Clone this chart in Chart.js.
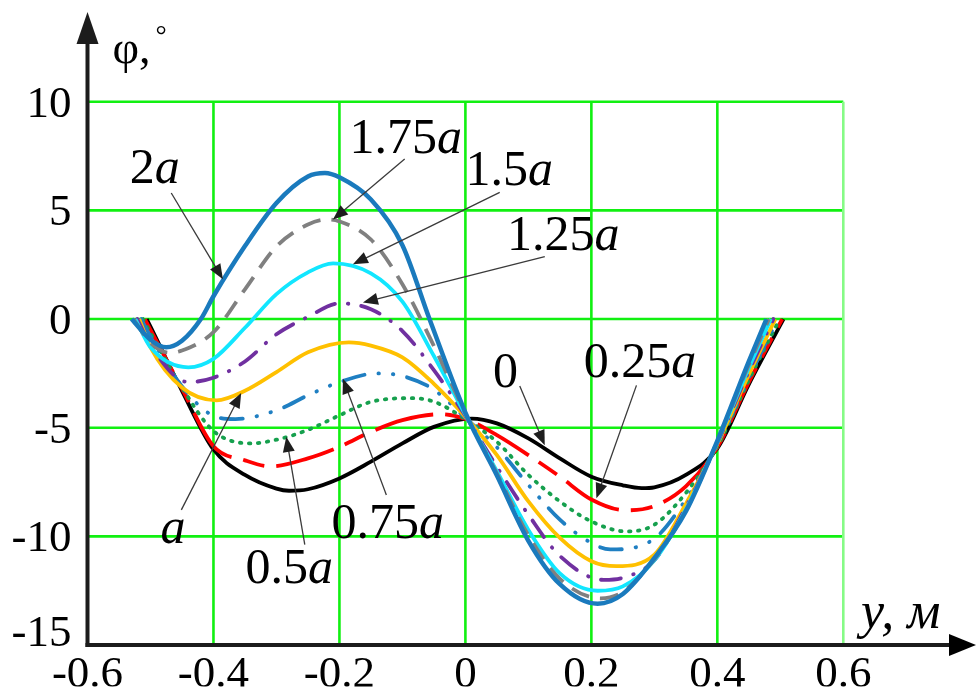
<!DOCTYPE html>
<html>
<head>
<meta charset="utf-8">
<script src="https://cdn.jsdelivr.net/npm/chart.js@4.4.1/dist/chart.umd.min.js"></script>
<style>
html,body{margin:0;padding:0;background:#fff;}
#wrap{width:976px;height:689px;position:relative;}
</style>
</head>
<body>
<div id="wrap"><canvas id="c" width="976" height="689"></canvas></div>
<script>
// ---------------- data ----------------
const xTicks = [-0.6, -0.4, -0.2, 0, 0.2, 0.4, 0.6];
const yTicks = [-15, -10, -5, 0, 5, 10];
const seriesNames = ['0', '0.25a', '0.5a', '0.75a', 'a', '1.25a', '1.5a', '1.75a', '2a'];

// curve "0"
const x_0    = [-0.506, -0.5, -0.45, -0.4, -0.35, -0.3, -0.28, -0.25, -0.2, -0.15, -0.1, -0.05, 0.01, 0.05, 0.1, 0.15, 0.2, 0.25, 0.28, 0.3, 0.35, 0.4, 0.45, 0.505];
const phi_0  = [0, -0.35, -3.3, -6.0, -7.17, -7.8, -7.9, -7.83, -7.33, -6.56, -5.72, -4.96, -4.58, -4.8, -5.49, -6.41, -7.25, -7.65, -7.78, -7.74, -7.17, -5.95, -3.0, 0];
// curve "0.25a"
const x_025a   = [-0.509, -0.5, -0.45, -0.4, -0.35, -0.31, -0.25, -0.2, -0.15, -0.1, -0.04, 0, 0.05, 0.1, 0.15, 0.2, 0.255, 0.3, 0.35, 0.4, 0.45, 0.503];
const phi_025a = [0, -0.5, -3.2, -5.85, -6.5, -6.78, -6.41, -5.88, -5.19, -4.65, -4.38, -4.6, -5.34, -6.26, -7.25, -8.3, -8.8, -8.6, -7.7, -5.9, -2.9, 0];
// curve "0.5a"
const x_05a   = [-0.512, -0.5, -0.45, -0.4, -0.34, -0.3, -0.25, -0.2, -0.15, -0.085, -0.05, 0, 0.05, 0.1, 0.15, 0.2, 0.255, 0.3, 0.35, 0.4, 0.45, 0.499];
const phi_05a = [0, -0.65, -3.15, -5.15, -5.72, -5.55, -5.1, -4.43, -3.81, -3.64, -3.8, -4.6, -5.65, -7.17, -8.39, -9.31, -9.77, -9.46, -8.0, -5.85, -2.8, 0];
// curve "0.75a"
const x_075a   = [-0.515, -0.5, -0.45, -0.4, -0.365, -0.3, -0.25, -0.2, -0.14, -0.1, -0.05, 0, 0.05, 0.1, 0.15, 0.2, 0.23, 0.3, 0.35, 0.4, 0.45, 0.496];
const phi_075a = [0, -0.8, -3.1, -4.45, -4.6, -4.2, -3.51, -2.9, -2.5, -2.62, -3.25, -4.55, -5.9, -7.63, -9.23, -10.3, -10.6, -10.1, -8.3, -5.8, -2.7, 0];
// curve "a"
const x_a   = [-0.518, -0.5, -0.45, -0.395, -0.35, -0.3, -0.25, -0.185, -0.15, -0.1, -0.05, 0, 0.05, 0.1, 0.15, 0.2, 0.24, 0.3, 0.35, 0.4, 0.45, 0.492];
const phi_a = [0, -1.3, -3.15, -3.74, -3.3, -2.44, -1.53, -1.07, -1.22, -1.76, -2.98, -4.5, -6.26, -8.39, -10.07, -11.14, -11.37, -10.84, -8.5, -5.75, -2.55, 0];
// curve "1.25a"
const x_125a   = [-0.521, -0.5, -0.44, -0.4, -0.35, -0.3, -0.25, -0.2, -0.15, -0.1, -0.05, 0, 0.05, 0.1, 0.15, 0.22, 0.25, 0.3, 0.35, 0.4, 0.45, 0.489];
const phi_125a = [0, -1.2, -2.9, -2.7, -1.95, -0.7, 0.1, 0.72, 0.45, -0.55, -2.35, -4.45, -6.8, -9.0, -10.9, -12.0, -11.9, -11.1, -8.65, -5.7, -2.4, 0];
// curve "1.5a"
const x_15a   = [-0.524, -0.5, -0.44, -0.4, -0.35, -0.3, -0.25, -0.21, -0.15, -0.1, -0.05, 0, 0.05, 0.1, 0.15, 0.21, 0.25, 0.3, 0.35, 0.4, 0.45, 0.485];
const phi_15a = [0, -1.3, -2.22, -1.83, -0.4, 1.15, 2.15, 2.56, 2.1, 0.8, -1.7, -4.4, -7.0, -9.7, -11.7, -12.5, -12.3, -11.1, -8.75, -5.65, -2.25, 0];
// curve "1.75a"
const x_175a   = [-0.527, -0.5, -0.47, -0.45, -0.4, -0.35, -0.3, -0.25, -0.22, -0.2, -0.15, -0.1, -0.05, 0, 0.05, 0.1, 0.15, 0.215, 0.25, 0.3, 0.35, 0.4, 0.45, 0.482];
const phi_175a = [0, -1.1, -1.55, -1.45, -0.6, 1.37, 3.34, 4.35, 4.58, 4.49, 3.66, 1.6, -1.24, -4.35, -7.1, -9.95, -11.95, -12.85, -12.55, -11.05, -8.8, -5.62, -2.1, 0];
// curve "2a"
const x_2a   = [-0.53, -0.5, -0.475, -0.45, -0.42, -0.4, -0.35, -0.3, -0.25, -0.223, -0.2, -0.15, -0.1, -0.057, 0, 0.05, 0.1, 0.15, 0.21, 0.25, 0.3, 0.35, 0.4, 0.45, 0.478];
const phi_2a = [0, -0.95, -1.3, -1.0, 0.0, 1.05, 3.36, 5.34, 6.56, 6.72, 6.52, 5.5, 3.4, 0.0, -4.3, -7.2, -10.2, -12.2, -13.1, -12.65, -11.0, -8.85, -5.6, -1.95, 0];

const seriesX   = [x_0, x_025a, x_05a, x_075a, x_a, x_125a, x_15a, x_175a, x_2a];
const seriesPhi = [phi_0, phi_025a, phi_05a, phi_075a, phi_a, phi_125a, phi_15a, phi_175a, phi_2a];

// ---------------- styles ----------------
const styles = [
  {color: '#000000', width: 3.8, dash: [], cap: 'butt'},
  {color: '#ff0000', width: 3.8, dash: [60, 12, 22, 12], cap: 'butt'},
  {color: '#16a04e', width: 3.8, dash: [1.5, 7.5], cap: 'round'},
  {color: '#1f7fc2', width: 3.8, dash: [22, 14, 0.5, 14, 0.5, 14], cap: 'round'},
  {color: '#ffc000', width: 3.8, dash: [], cap: 'butt'},
  {color: '#7030a0', width: 3.8, dash: [20, 13, 0.5, 13], cap: 'round'},
  {color: '#12e6ff', width: 3.8, dash: [], cap: 'butt'},
  {color: '#808080', width: 3.8, dash: [19, 11], cap: 'butt'},
  {color: '#1a7abd', width: 4.5, dash: [], cap: 'butt'}
];

// annotation labels: text, text anchor (data coords, left/baseline), arrow from -> tip (data coords)
const annotations = [
  {t: '2a',    x: -0.533, y: 6.27,   ax: -0.467, ay: 5.8,   bx: -0.385, by: 1.83},
  {t: '1.75a', x: -0.184, y: 7.64,   ax: -0.0964, ay: 7.36, bx: -0.2103, by: 4.58},
  {t: '1.5a',  x: 0.0,    y: 6.18,   ax: 0.0545, ay: 5.83,  bx: -0.1786, by: 2.52},
  {t: '1.25a', x: 0.066,  y: 3.2,    ax: 0.126,  ay: 2.87,  bx: -0.1627, by: 0.76},
  {t: '0',     x: 0.044,  y: -3.11,  ax: 0.0863, ay: -3.08, bx: 0.126,   by: -5.8},
  {t: '0.25a', x: 0.188,  y: -2.66,  ax: 0.2716, ay: -3.05, bx: 0.208,   by: -8.24},
  {t: 'a',     x: -0.484, y: -10.3,  ax: -0.451, ay: -8.78, bx: -0.356,  by: -3.4},
  {t: '0.5a',  x: -0.349, y: -12.13, ax: -0.255, ay: -10.38, bx: -0.2844, by: -5.42},
  {t: '0.75a', x: -0.2125, y: -10.07, ax: -0.1255, ay: -8.09, bx: -0.1944, by: -2.75}
];

const SERIF = "'Liberation Serif', 'Times New Roman', serif";

// ---------------- datasets ----------------
const datasets = seriesNames.map((name, i) => {
  const s = styles[i];
  return {
    label: name,
    data: seriesX[i].map((xv, j) => ({x: xv, y: seriesPhi[i][j]})),
    borderColor: s.color,
    borderWidth: s.width,
    borderDash: s.dash,
    borderCapStyle: s.cap,
    borderJoinStyle: 'round',
    pointRadius: 0,
    fill: false,
    cubicInterpolationMode: 'monotone',
    clip: false,
    order: seriesNames.length - 1 - i
  };
});

// ---------------- plugins ----------------
const gridPlugin = {
  id: 'greenGrid',
  beforeDatasetsDraw(chart) {
    const {ctx, scales: {x, y}} = chart;
    ctx.save();
    ctx.lineWidth = 2.6;
    ctx.strokeStyle = '#11f011';
    yTicks.forEach((v, k) => {
      if (k === 0) return;
      const py = y.getPixelForValue(v);
      ctx.beginPath();
      ctx.moveTo(x.getPixelForValue(xTicks[0]), py);
      ctx.lineTo(x.getPixelForValue(xTicks[xTicks.length - 1]), py);
      ctx.stroke();
    });
    xTicks.forEach((v, k) => {
      if (k === 0) return;
      const px = x.getPixelForValue(v);
      ctx.strokeStyle = (k === xTicks.length - 1) ? '#86fb86' : '#11f011';
      ctx.beginPath();
      ctx.moveTo(px, y.getPixelForValue(yTicks[0]));
      ctx.lineTo(px, y.getPixelForValue(yTicks[yTicks.length - 1]));
      ctx.stroke();
    });
    ctx.restore();
  }
};

function drawArrow(ctx, x1, y1, x2, y2) {
  const a = Math.atan2(y2 - y1, x2 - x1);
  const L = 15, W = 6;
  ctx.beginPath();
  ctx.moveTo(x1, y1);
  ctx.lineTo(x2 - (L - 2) * Math.cos(a), y2 - (L - 2) * Math.sin(a));
  ctx.stroke();
  ctx.beginPath();
  ctx.moveTo(x2, y2);
  ctx.lineTo(x2 - L * Math.cos(a) + W * Math.sin(a), y2 - L * Math.sin(a) - W * Math.cos(a));
  ctx.lineTo(x2 - L * Math.cos(a) - W * Math.sin(a), y2 - L * Math.sin(a) + W * Math.cos(a));
  ctx.closePath();
  ctx.fill();
}

function drawMixedLabel(ctx, text, px, py, size) {
  let num = text, it = '';
  if (text.endsWith('a')) { num = text.slice(0, -1); it = 'a'; }
  ctx.textAlign = 'left';
  ctx.textBaseline = 'alphabetic';
  ctx.font = size + 'px ' + SERIF;
  ctx.fillText(num, px, py);
  const w = num ? ctx.measureText(num).width : 0;
  if (it) {
    ctx.font = 'italic ' + size + 'px ' + SERIF;
    ctx.fillText(it, px + w, py);
  }
}

const decoPlugin = {
  id: 'deco',
  afterDatasetsDraw(chart) {
    const {ctx, scales: {x, y}} = chart;
    ctx.save();
    const ax0 = x.getPixelForValue(xTicks[0]);
    const ay0 = y.getPixelForValue(yTicks[0]);
    ctx.strokeStyle = '#1c1c1c';
    ctx.fillStyle = '#1c1c1c';
    ctx.lineWidth = 4;
    ctx.lineCap = 'butt';
    // y axis with arrow
    ctx.beginPath();
    ctx.moveTo(ax0, ay0 + 2);
    ctx.lineTo(ax0, 40);
    ctx.stroke();
    ctx.beginPath();
    ctx.moveTo(ax0, 12);
    ctx.lineTo(ax0 - 11, 44);
    ctx.lineTo(ax0 + 11, 44);
    ctx.closePath();
    ctx.fill();
    // x axis with arrow
    ctx.beginPath();
    ctx.moveTo(ax0 - 2, ay0);
    ctx.lineTo(952, ay0);
    ctx.stroke();
    ctx.fillStyle = '#000';
    ctx.beginPath();
    ctx.moveTo(976, ay0);
    ctx.lineTo(949, ay0 - 11);
    ctx.lineTo(949, ay0 + 11);
    ctx.closePath();
    ctx.fill();

    // axis titles
    ctx.fillStyle = '#000';
    ctx.textAlign = 'left';
    ctx.textBaseline = 'alphabetic';
    ctx.font = '46px ' + SERIF;
    ctx.fillText('φ,', ax0 + 25, 63);
    ctx.font = '28px ' + SERIF;
    ctx.fillText('°', ax0 + 68, 44);
    ctx.font = 'italic 52px ' + SERIF;
    ctx.fillText('y, м', 861, ay0 - 17);

    // annotation arrows + labels
    ctx.strokeStyle = '#3a3a3a';
    ctx.fillStyle = '#1e1e1e';
    ctx.lineWidth = 1.3;
    annotations.forEach(a => {
      drawArrow(ctx, x.getPixelForValue(a.ax), y.getPixelForValue(a.ay),
                     x.getPixelForValue(a.bx), y.getPixelForValue(a.by));
    });
    ctx.fillStyle = '#000';
    annotations.forEach(a => {
      drawMixedLabel(ctx, a.t, x.getPixelForValue(a.x), y.getPixelForValue(a.y), 50);
    });
    ctx.restore();
  }
};

// ---------------- chart ----------------
const chart = new Chart(document.getElementById('c').getContext('2d'), {
  type: 'line',
  data: {datasets},
  options: {
    responsive: false,
    animation: false,
    devicePixelRatio: 1,
    layout: {padding: {top: 101.7, right: 132.7, left: 0, bottom: 0}},
    plugins: {legend: {display: false}, tooltip: {enabled: false}},
    scales: {
      x: {
        type: 'linear', min: -0.6, max: 0.6,
        grid: {display: false, drawTicks: false},
        border: {display: false},
        afterFit(s) { s.height = 41.3; },
        afterBuildTicks(s) { s.ticks = xTicks.map(v => ({value: v})); },
        ticks: {
          color: '#000', padding: 3, maxRotation: 0, autoSkip: false,
          font: {family: SERIF, size: 45},
          callback: v => (v === 0 ? '0' : v.toFixed(1))
        }
      },
      y: {
        type: 'linear', min: -15, max: 10,
        grid: {display: false, drawTicks: false},
        border: {display: false},
        afterFit(s) { s.width = 87.5; },
        afterBuildTicks(s) { s.ticks = yTicks.map(v => ({value: v})); },
        ticks: {
          color: '#000', padding: 16, labelOffset: 3, autoSkip: false,
          // the lowest label sits raised above the x axis, as in the reference
          font: (c) => ({family: SERIF, size: 45,
                         lineHeight: (c.tick && c.tick.value === yTicks[0]) ? 0.62 : 1.2}),
          callback: v => (v === yTicks[0] ? [String(v), ''] : String(v))
        }
      }
    }
  },
  plugins: [gridPlugin, decoPlugin]
});
</script>
</body>
</html>
